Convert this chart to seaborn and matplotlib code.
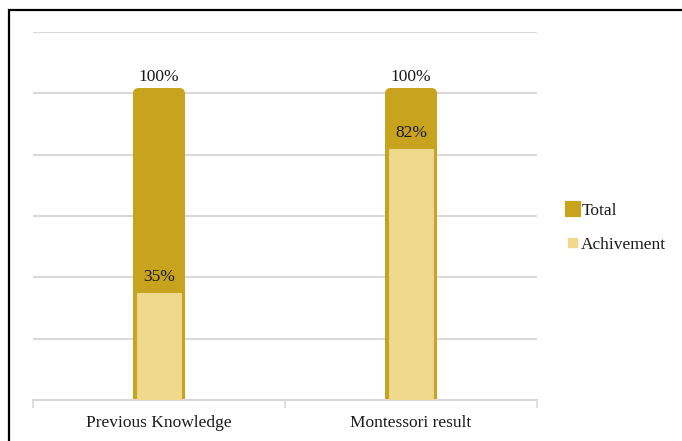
import matplotlib
matplotlib.use("Agg")
import matplotlib.pyplot as plt
import seaborn as sns
from matplotlib.patches import Patch, Rectangle

# 데이터
categories = ["Previous Knowledge", "Montessori result"]
total = [1.00, 1.00]
achievement = [0.35, 0.82]
series_names = ["Total", "Achivement"]

total_color = "#C8A31E"
achiev_color = "#F0D98B"

sns.set_theme(style="white")
plt.rcParams['font.family'] = ['Liberation Serif', 'DejaVu Serif']

fig = plt.figure(figsize=(6.82, 4.41), dpi=100)
ax = fig.add_axes([33 / 682, 1 - 400 / 441, 504 / 682, 368 / 441])

# 바깥 테두리 (오른쪽/아래는 잘려 있음)
fig.patches.append(Rectangle((9 / 682, -0.1), 1.2, 1 - 10 / 441 + 0.1,
                             transform=fig.transFigure, fill=False,
                             edgecolor="black", linewidth=1.6, zorder=0))

# Total 막대 (두꺼운 테두리로 둥근 모서리)
sns.barplot(x=categories, y=total, ax=ax, color=total_color, width=0.17,
            edgecolor=total_color, linewidth=7.2, saturation=1, zorder=2)
for p in ax.patches:
    p.set_joinstyle("round")

# Achievement 막대
sns.barplot(x=categories, y=achievement, ax=ax, color=achiev_color, width=0.175,
            edgecolor="#EAD590", linewidth=0.8, saturation=1, zorder=3)

# 값 라벨
fs = 12.5
for i, (t, a) in enumerate(zip(total, achievement)):
    ax.annotate(f"{t:.0%}", (i, t), xytext=(0, 9), textcoords="offset points",
                ha="center", va="baseline", fontsize=fs, color="#1a1a1a", zorder=5)
    ax.annotate(f"{a:.0%}", (i, a), xytext=(0, 8.5), textcoords="offset points",
                ha="center", va="baseline", fontsize=fs, color="#1a1a1a", zorder=5)

ax.set_xlim(-0.5, 1.5)
ax.set_ylim(0, 1.2)
ax.set_yticks([0.2, 0.4, 0.6, 0.8, 1.0, 1.2])
ax.yaxis.grid(True, color="#D9D9D9", linewidth=1.5)
ax.set_axisbelow(True)
ax.tick_params(axis="y", left=False, labelleft=False)

# x축: 경계 눈금 + 범주 라벨
ax.set_xticks([-0.5, 0.5, 1.5])
ax.set_xticklabels(["", "", ""])
ax.set_xticks([0, 1], minor=True)
ax.set_xticklabels(categories, minor=True, fontsize=fs, color="#1a1a1a")
ax.tick_params(axis="x", which="major", bottom=True, length=6, width=1.2, color="#D9D9D9")
ax.tick_params(axis="x", which="minor", bottom=False, length=0, pad=11)

for s in ["top", "right", "left"]:
    ax.spines[s].set_visible(False)
ax.spines["bottom"].set_color("#D9D9D9")
ax.spines["bottom"].set_linewidth(1.5)

# 범례
handles = [
    Patch(facecolor=total_color, edgecolor=total_color, linewidth=3, joinstyle="round", label=series_names[0]),
    Patch(facecolor=achiev_color, edgecolor="white", linewidth=1.2, label=series_names[1]),
]
fig.legend(handles=handles, loc="center left", bbox_to_anchor=(567 / 682, 1 - 228 / 441),
           frameon=False, fontsize=fs, handlelength=0.7, handleheight=0.7,
           handletextpad=0.12, labelspacing=1.05, borderpad=0, borderaxespad=0,
           labelcolor="#1a1a1a")

fig.savefig("out.png", dpi=100)
